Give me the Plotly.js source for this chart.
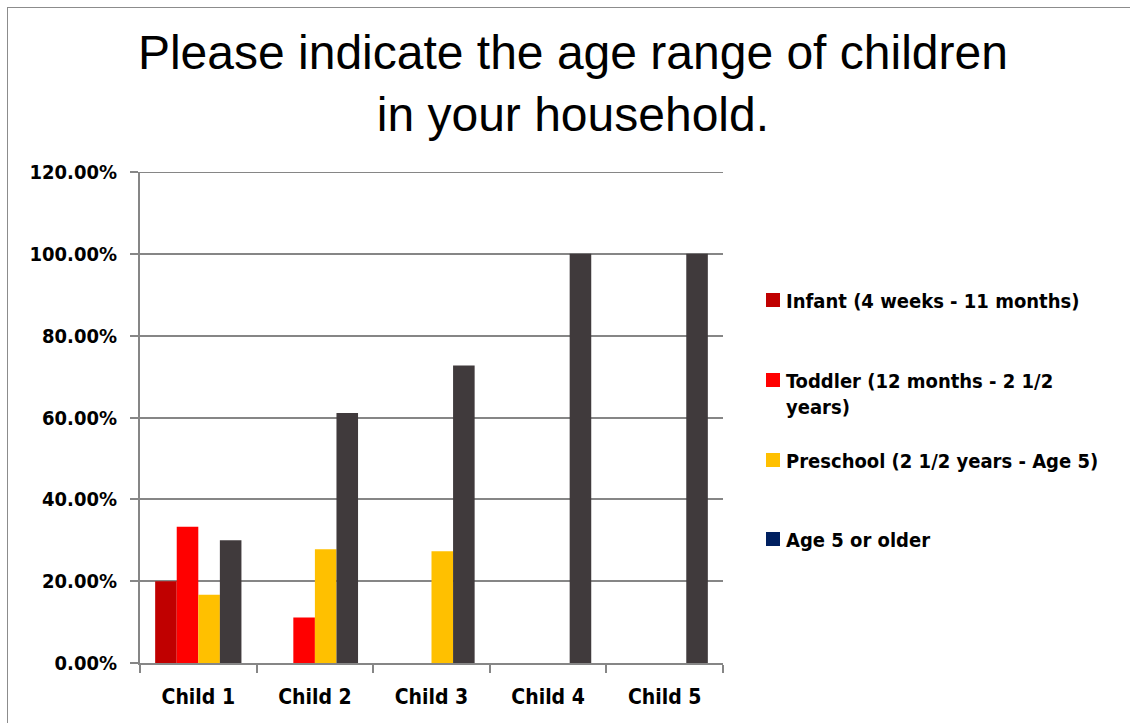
<!DOCTYPE html>
<html>
<head>
<meta charset="utf-8">
<script src="https://cdn.plot.ly/plotly-3.0.1.min.js"></script>
<style>
  html, body { margin: 0; padding: 0; background: #fff; overflow: hidden; }
  #frame { position: absolute; left: 7px; top: 7px; width: 1140px; height: 730px;
           border-left: 1px solid #8c8c8c; border-top: 1px solid #8c8c8c; }
  #chart { position: absolute; left: -8px; top: -8px; width: 1130px; height: 723px; }
</style>
</head>
<body>
<div id="frame"><div id="chart"></div></div>
<script>
// Survey answers: share of each age range per child slot
const categories = ["Child 1", "Child 2", "Child 3", "Child 4", "Child 5"];
const seriesNames = [
  "Infant (4 weeks - 11 months)",
  "Toddler (12 months - 2 1/2<br>years)",
  "Preschool (2 1/2 years - Age 5)",
  "Age 5 or older"
];
const infant    = [0.20, 0, 0, 0, 0];
const toddler   = [0.333, 0.111, 0, 0, 0];
const preschool = [0.167, 0.278, 0.273, 0, 0];
const age5Older = [0.30, 0.611, 0.727, 1.00, 1.00];
const yTicks    = [0, 0.2, 0.4, 0.6, 0.8, 1.0, 1.2];

const barColors = ["#C00000", "#FF0000", "#FFC000", "#403A3C"];
const keyColors = ["#C00000", "#FF0000", "#FFC000", "#002060"];

const boldFont = "'DejaVu Sans Condensed', 'Liberation Sans Narrow', sans-serif";

const values = [infant, toddler, preschool, age5Older];
const traces = values.map((v, i) => ({
  type: "bar",
  x: categories,
  y: v,
  name: seriesNames[i],
  marker: { color: barColors[i] },
  showlegend: false,
  hoverinfo: "x+y"
}));

// plot area geometry (pixels)
const L = 140, R = 723, T = 172, B = 663;
const W = 1130, H = 723;
const px = x => (x - L) / (R - L);
const py = y => (B - y) / (B - T);

const yMax = yTicks[yTicks.length - 1];

// top gridline at the end of the value range
const shapes = [{
  type: "line", xref: "paper", yref: "y", x0: 0, x1: 1, y0: yMax, y1: yMax,
  line: { color: "#868686", width: 2 }, layer: "below"
}];
const annotations = [];

// hand-built key on the right
const keyRows = [300, 380, 460, 539];
seriesNames.forEach((n, i) => {
  const yc = keyRows[i];
  shapes.push({
    type: "rect", xref: "paper", yref: "paper",
    x0: px(766), x1: px(780), y0: py(yc + 7), y1: py(yc - 7),
    fillcolor: keyColors[i], line: { width: 0 }
  });
  annotations.push({
    xref: "paper", yref: "paper", x: px(784), y: py(yc - 13),
    xanchor: "left", yanchor: "top", align: "left",
    text: "<b>" + n + "</b>", showarrow: false,
    font: { family: boldFont, size: 20, color: "#000" }
  });
});

const layout = {
  width: W, height: H,
  margin: { l: L, r: W - R, t: T, b: H - B, pad: 0 },
  paper_bgcolor: "rgba(0,0,0,0)",
  plot_bgcolor: "#fff",
  title: {
    text: "Please indicate the age range of children<br>in your household.",
    font: { family: "'Liberation Sans', Arial, sans-serif", size: 48, color: "#000" },
    x: 0.507, xanchor: "center", yref: "container", y: 0.905, yanchor: "top"
  },
  barmode: "group",
  bargap: 0.26,
  bargroupgap: 0,
  xaxis: {
    type: "category",
    showgrid: false,
    showline: true, linecolor: "#868686", linewidth: 2,
    ticks: "outside", tickson: "boundaries", ticklen: 8, tickcolor: "#868686", tickwidth: 2,
    tickvals: categories,
    ticktext: categories.map(c => "<b>" + c + "</b>"),
    tickfont: { family: boldFont, size: 21, color: "#000" },
    ticklabelstandoff: 14
  },
  yaxis: {
    range: [0, yMax],
    tickvals: yTicks,
    ticktext: yTicks.map(v => "<b>" + (v * 100).toFixed(2) + "%</b>"),
    showgrid: true, gridcolor: "#868686", gridwidth: 2,
    zeroline: false,
    showline: true, linecolor: "#868686", linewidth: 2,
    ticks: "outside", ticklen: 8, tickcolor: "#868686", tickwidth: 2,
    tickfont: { family: boldFont, size: 20, color: "#000" },
    ticklabelstandoff: 9
  },
  shapes: shapes,
  annotations: annotations,
  showlegend: false
};

Plotly.newPlot("chart", traces, layout, { displayModeBar: false, staticPlot: true });
</script>
</body>
</html>
